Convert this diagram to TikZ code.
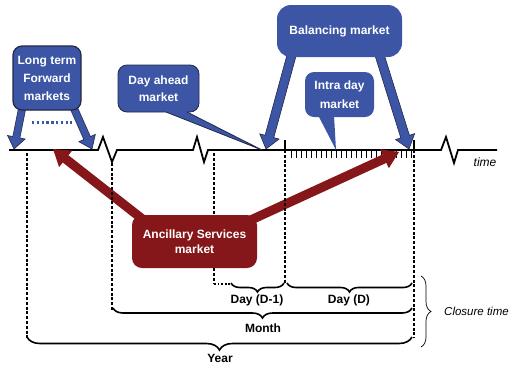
\documentclass[tikz,border=0pt]{standalone}
\usepackage{fontspec}
\setmainfont{Liberation Sans}
\usetikzlibrary{calc,decorations.pathreplacing}
\definecolor{mkblue}{RGB}{60,85,165}
\definecolor{mkred}{RGB}{133,22,26}
\definecolor{mkborder}{RGB}{35,40,70}
% block arrow: #1 start, #2 tip, #3 stem half width, #4 head half width, #5 head length, #6 style
\newcommand{\blockarr}[6]{%
  \path coordinate (bah) at ($(#2)!#5!(#1)$);
  \path[#6] ($(#1)!#3!90:(#2)$) -- ($(bah)!#3!90:(#2)$) -- ($(bah)!#4!90:(#2)$) -- (#2)
    -- ($(bah)!#4!-90:(#2)$) -- ($(bah)!#3!-90:(#2)$) -- ($(#1)!#3!-90:(#2)$) -- cycle;
}
\begin{document}
\begin{tikzpicture}[x=1pt,y=-1pt,
  boxtxt/.style={text=white,font=\bfseries\fontsize{12}{#1}\selectfont,align=center,inner sep=0pt},
  boxtxt/.default=16,
  tline/.style={line width=1.8pt,line join=miter},
  dashv/.style={line width=1.1pt,dash pattern=on 3pt off 1.8pt},
  bracedn/.style={decorate,decoration={brace,mirror,amplitude=#1},line width=1.6pt},
  lbl/.style={font=\bfseries\fontsize{12}{14}\selectfont,inner sep=0pt},
  bluearr/.style={fill=mkblue,draw=mkborder,line width=0.6pt,line join=miter},
  redarr/.style={fill=mkred,line join=miter}
]
\useasboundingbox (0,0) rectangle (512,365);

% ---------- time line ----------
\coordinate (t0) at (9,150);
\coordinate (tend) at (497,150);
\draw[tline] (t0) -- (98,150) -- (103,137) -- (112,162) -- (117,150) -- (193,150)
  -- (197,137) -- (204,162) -- (208,150) -- (441,150) -- (446,137) -- (454,163)
  -- (458,150) -- (tend);
\node[font=\itshape\fontsize{12}{14}\selectfont,inner sep=0pt] (tm) at (485,162) {time};
% ticks
\foreach \i in {0,...,24} \draw[line width=0.9pt] (291+5*\i,150) -- (291+5*\i,158);
\coordinate (k1t) at (285,140); \coordinate (k1b) at (285,150);
\coordinate (k2t) at (414,140); \coordinate (k2b) at (414,150);
\draw[line width=1.2pt] (k1t) -- (k1b);
\draw[line width=1.2pt] (k2t) -- (k2b);

% ---------- red arrows (Ancillary services) ----------
\coordinate (asl0) at (150,225); \coordinate (asl1) at (53,149);
\coordinate (asr0) at (240,225); \coordinate (asr1) at (399,152);
\blockarr{asl0}{asl1}{4.6pt}{10.5pt}{16pt}{redarr}
\blockarr{asr0}{asr1}{4.6pt}{10.5pt}{16pt}{redarr}

% ---------- dashed verticals ----------
\coordinate (v1a) at (27,153);  \coordinate (v1b) at (27,338);
\coordinate (v2a) at (112,163); \coordinate (v2b) at (112,310);
\coordinate (v3a) at (214,153); \coordinate (v3b) at (214,284); \coordinate (v3c) at (231,284);
\coordinate (v4a) at (285,150); \coordinate (v4b) at (285,283);
\coordinate (v5a) at (414,150); \coordinate (v5b) at (414,338);
\draw[dashv] (v1a) -- (v1b);
\draw[dashv] (v2a) -- (v2b);
\draw[dashv] (v3a) -- (v3b);
\draw[line width=1.6pt,dash pattern=on 1.8pt off 1.8pt] (v3b) -- (v3c);
\draw[dashv] (v4a) -- (v4b);
\draw[dashv] (v5a) -- (v5b);

% ---------- braces ----------
\coordinate (b1a) at (231,283); \coordinate (b1b) at (284,283);
\coordinate (b2a) at (287,283); \coordinate (b2b) at (412,283);
\coordinate (b3a) at (113,308); \coordinate (b3b) at (412,308);
\coordinate (b4a) at (27,337);  \coordinate (b4b) at (412,337);
\draw[bracedn=9pt] (b1a) -- (b1b);
\draw[bracedn=9pt] (b2a) -- (b2b);
\draw[bracedn=10pt] (b3a) -- (b3b);
\draw[bracedn=13pt] (b4a) -- (b4b);
\node[lbl] (dm1) at (257,300) {Day (D-1)};
\node[lbl] (dd) at (349,300) {Day (D)};
\node[lbl] (mo) at (263,328) {Month};
\node[lbl] (yr) at (220,358) {Year};
\coordinate (c1) at (421,276); \coordinate (c2) at (421,347);
\draw[decorate,decoration={brace,amplitude=10pt},line width=0.7pt] (c1) -- (c2);
\node[font=\itshape\fontsize{11.5}{14}\selectfont,anchor=west,inner sep=0pt] (ct) at (444,311) {Closure time};

% ---------- Ancillary services box ----------
\node[boxtxt=15,fill=mkred,rounded corners=10pt,minimum width=125pt,minimum height=53pt] (as) at (194.5,241.5) {Ancillary Services\\market};

% ---------- Long term forward markets ----------
\coordinate (ltl0) at (23,104); \coordinate (ltl1) at (14,149);
\coordinate (ltr0) at (72,104); \coordinate (ltr1) at (92,149);
\blockarr{ltl0}{ltl1}{3.6pt}{9pt}{12pt}{bluearr}
\blockarr{ltr0}{ltr1}{3.6pt}{9pt}{12pt}{bluearr}
\node[boxtxt=18,fill=mkblue,draw=mkborder,line width=1.2pt,rounded corners=9pt,minimum width=68pt,minimum height=64pt] (lt) at (47,78) {Long term\\Forward\\markets};
\coordinate (dot1) at (32,122); \coordinate (dot2) at (72,122);
\draw[mkblue,line width=3pt,dash pattern=on 2.4pt off 2.4pt] (dot1) -- (dot2);

% ---------- Day ahead market ----------
\node[boxtxt=17,fill=mkblue,draw=mkborder,line width=0.8pt,rounded corners=9pt,minimum width=81pt,minimum height=47pt] (da) at (158.5,88.5) {Day ahead\\market};
\coordinate (dap1) at (166,112); \coordinate (datip) at (262,150); \coordinate (dap2) at (187,112);
\fill[mkblue] ($(dap1)+(0,-2)$) -- (dap1) -- (datip) -- (dap2) -- ($(dap2)+(0,-2)$) -- cycle;
\draw[mkborder,line width=0.8pt,line join=miter] (dap1) -- (datip) -- (dap2);

% ---------- Balancing market ----------
\coordinate (bml0) at (293,50); \coordinate (bml1) at (266,149);
\coordinate (bmr0) at (378,50); \coordinate (bmr1) at (409,149);
\blockarr{bml0}{bml1}{4.5pt}{10pt}{13pt}{bluearr}
\blockarr{bmr0}{bmr1}{4.5pt}{10pt}{13pt}{bluearr}
\node[boxtxt,fill=mkblue,rounded corners=14pt,minimum width=125pt,minimum height=52pt] (bm) at (339.5,31) {Balancing market};

% ---------- Intra day market ----------
\node[boxtxt=19,fill=mkblue,rounded corners=9pt,minimum width=69pt,minimum height=45pt] (id) at (339.5,94.5) {Intra day\\market};
\coordinate (idp1) at (318,115); \coordinate (idtip) at (336,150); \coordinate (idp2) at (334,115);
\fill[mkblue] (idp1) -- (idtip) -- (idp2) -- cycle;
\end{tikzpicture}
\end{document}
